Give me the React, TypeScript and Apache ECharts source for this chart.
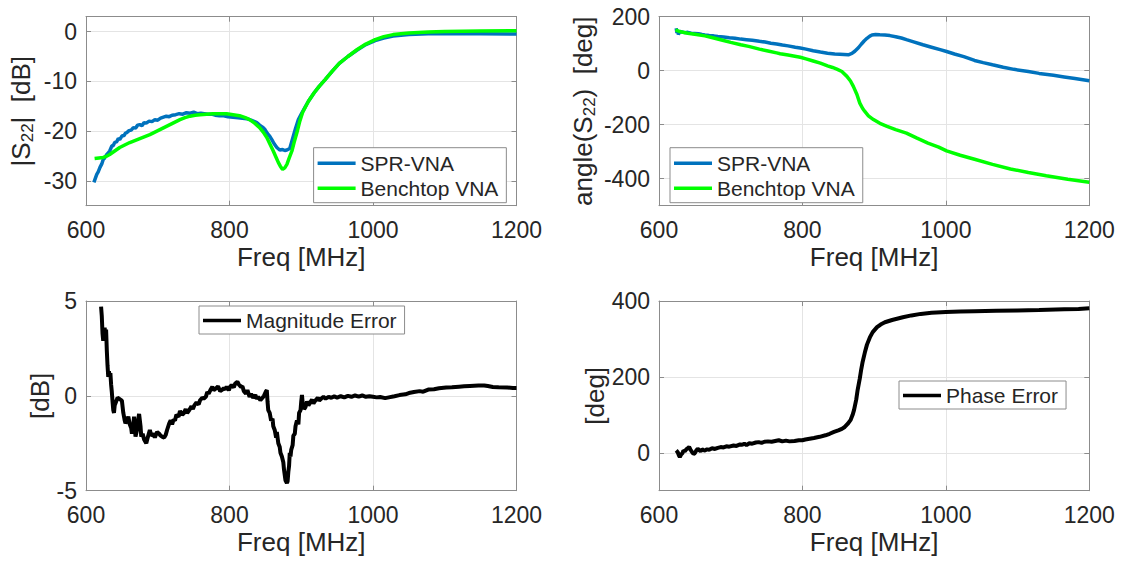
import React, { useEffect, useRef } from "react";
import * as echarts from "echarts";

// ---------- data ----------
const freqTicks = [600, 800, 1000, 1200];
const magTicks = [-30, -20, -10, 0];
const phaseTicks = [-400, -200, 0, 200];
const magErrTicks = [-5, 0, 5];
const phaseErrTicks = [0, 200, 400];

const s22MagSpr: [number, number][] = [
  [611,-30.3],[613,-29.5],[615,-28.7],[617,-28.2],[619.5,-27.3],[622,-26.6],[624,-25.7],[626,-25.4],[629,-24.7],[631,-24.4],[633,-24.0],[636,-23.0],[638,-22.9],[640,-22.3],[643,-22.1],[645,-21.5],[647,-21.7],[650,-21.0],[653,-20.9],[655,-20.4],[657,-20.3],[660,-19.9],[663,-19.8],[666,-19.3],[669,-19.4],[672,-18.8],[675,-18.7],[678,-18.9],[681,-18.3],[684,-18.4],[688,-18.0],[692,-18.1],[696,-17.7],[700,-17.8],[704,-17.4],[708,-17.2],[712,-17.0],[716,-17.1],[720,-16.8],[725,-16.7],[730,-16.5],[735,-16.6],[740,-16.3],[745,-16.4],[750,-16.2],[755,-16.5],[760,-16.4],[765,-16.5],[770,-16.6],[775,-16.6],[780,-16.8],[786,-16.9],[792,-16.9],[798,-17.1],[805,-17.2],[812,-17.3],[818,-17.4],[824,-17.5],[830,-17.8],[835,-18.1],[838,-18.3],[842,-18.8],[846,-19.2],[849.5,-19.7],[853,-20.5],[856,-21.0],[859,-21.7],[862,-22.5],[866,-23.3],[870,-23.8],[874,-23.7],[877,-23.9],[880,-23.8],[884,-23.5],[887,-22.0],[889,-21.0],[892,-19.5],[896,-17.7],[900,-16.6],[905,-15.3],[910,-14.0],[918,-12.3],[925,-11.0],[933,-9.7],[943,-8.0],[953,-6.4],[965,-5.0],[978,-3.7],[990,-2.6],[1003,-1.8],[1015,-1.3],[1028,-0.9],[1050,-0.6],[1077,-0.45],[1100,-0.4],[1150,-0.45],[1200,-0.5]
];

const s22MagBench: [number, number][] = [
  [612,-25.5],[618,-25.4],[624,-25.3],[628,-25.1],[633,-24.7],[640,-24.0],[647,-23.3],[654,-22.8],[661,-22.3],[668,-21.9],[675,-21.5],[682,-21.1],[689,-20.7],[696,-20.2],[703,-19.7],[710,-19.2],[717,-18.7],[724,-18.2],[731,-17.7],[738,-17.3],[745,-17.0],[752,-16.8],[759,-16.7],[768,-16.6],[777,-16.5],[786,-16.5],[796,-16.5],[805,-16.7],[814,-16.9],[822,-17.3],[828,-17.7],[835,-18.4],[842,-19.3],[847,-20.2],[852,-21.3],[856,-22.5],[861,-24.0],[865,-25.3],[868,-26.3],[871,-27.1],[874,-27.7],[877,-27.4],[880,-26.7],[883,-25.5],[887,-24.0],[890,-22.3],[894,-20.3],[898,-18.0],[902,-16.2],[906,-15.1],[910,-14.0],[918,-12.3],[925,-11.0],[933,-9.7],[943,-8.0],[953,-6.4],[965,-5.0],[978,-3.6],[990,-2.5],[1003,-1.6],[1015,-1.0],[1028,-0.6],[1050,-0.3],[1077,-0.1],[1100,0.0],[1150,0.1],[1200,0.2]
];

const s22PhaseSpr: [number, number][] = [
  [624,157],[625,140],[626,150],[627,134],[629,146],[632,143],[636,141],[640,142],[645,139],[650,138],[655,137],[660,134],[664,132],[670,130],[676,129],[682,127],[690,125],[698,122],[706,120],[714,117],[722,115],[730,113],[740,109],[748,106],[756,102],[764,99],[772,95],[780,92],[790,87],[797,84],[805,80],[815,74],[825,69],[835,65],[845,62],[852,61],[858,60],[864,59],[869,64],[873,72],[878,85],[882,98],[886,110],[890,120],[894,128],[897,132],[902,134],[908,133],[915,132],[922,130],[930,126],[938,121],[945,115],[955,107],[968,96],[980,87],[992,78],[1001,71],[1012,62],[1025,52],[1040,38],[1052,30],[1065,22],[1080,13],[1095,5],[1115,-3],[1130,-10],[1150,-17],[1165,-23],[1180,-29],[1200,-37]
];

const s22PhaseBench: [number, number][] = [
  [623,151],[630,144],[640,139],[650,135],[664,129],[675,122],[690,112],[700,105],[714,96],[725,90],[740,80],[752,73],[764,66],[769,63],[780,58],[797,50],[805,44],[815,36],[825,28],[835,18],[842,12],[848,6],[855,-3],[862,-21],[867,-38],[871,-58],[876,-88],[880,-120],[884,-140],[887,-151],[892,-167],[899,-181],[908,-195],[918,-206],[930,-218],[945,-231],[959,-249],[975,-268],[990,-283],[1001,-297],[1020,-313],[1040,-328],[1065,-347],[1090,-364],[1115,-377],[1140,-389],[1170,-402],[1200,-413]
];

const magError: [number, number][] = [
  [621,4.7],[622,4.2],[623,3.3],[624,2.9],[625,3.4],[626,3.6],[627,3.1],[628,3.5],[629,2.4],[630,1.6],[631,1.0],[632,1.3],[633,1.0],[634,1.2],[635,0.6],[636,0.2],[637,-0.3],[638,-0.75],[639,-0.9],[640,-0.5],[642,-0.3],[644,-0.1],[646,-0.15],[648,-0.2],[650,-0.25],[652,-0.9],[654,-1.3],[655,-1.45],[657,-1.3],[659,-1.1],[661,-1.5],[663,-1.7],[664,-2.0],[666,-1.5],[667,-1.1],[668,-1.6],[669,-2.15],[671,-1.8],[673,-1.2],[674,-0.95],[676,-1.6],[677,-2.15],[679,-2.0],[681,-2.3],[684,-2.5],[686,-2.2],[689,-1.8],[691,-2.1],[694,-2.0],[696,-2.2],[699,-1.9],[702,-2.0],[704,-2.1],[706,-2.15],[709,-2.2],[711,-2.07],[713,-1.8],[716,-1.45],[718,-1.3],[720,-1.5],[722,-1.25],[724,-1.3],[726,-1.0],[729,-1.1],[731,-0.8],[734,-1.0],[736,-0.93],[739,-0.7],[741,-0.9],[744,-0.75],[747,-0.55],[749,-0.7],[751,-0.5],[754,-0.35],[757,-0.45],[759,-0.23],[762,-0.1],[764,-0.15],[767,-0.05],[769,0.2],[771,0.12],[774,0.35],[776,0.47],[778,0.3],[781,0.39],[784,0.5],[787,0.25],[789,0.3],[792,0.4],[794,0.35],[796,0.47],[799,0.3],[801,0.48],[803,0.56],[806,0.45],[808,0.65],[811,0.74],[813,0.6],[816,0.47],[818,0.5],[820,0.25],[823,0.12],[825,0.3],[828,-0.05],[830,0.1],[833,-0.1],[836,0.04],[838,-0.15],[840,-0.05],[843,-0.23],[846,-0.1],[848,0.0],[851,0.25],[852,0.3],[853,-0.3],[854,-0.75],[856,-0.9],[858,-1.3],[860,-1.2],[861,-1.6],[863,-1.8],[865,-2.2],[866,-1.9],[868,-2.5],[870,-2.7],[871,-3.0],[873,-3.2],[875,-3.5],[876,-3.9],[878,-4.45],[880,-4.6],[881,-4.5],[882,-4.0],[883,-3.7],[884,-3.0],[885,-3.2],[886,-2.85],[888,-2.6],[889,-2.1],[891,-2.0],[892,-1.6],[894,-1.3],[896,-1.5],[897,-0.9],[899,-0.75],[900,-0.3],[901,0.05],[902,-0.4],[904,-0.7],[906,-0.58],[908,-0.3],[910,-0.5],[913,-0.32],[915,-0.2],[917,-0.4],[920,-0.23],[923,-0.1],[925,-0.25],[928,-0.14],[931,-0.05],[934,-0.15],[938,-0.05],[942,-0.1],[946,-0.03],[950,-0.09],[955,-0.02],[960,-0.08],[965,0.0],[970,-0.05],[975,0.02],[980,-0.04],[985,0.02],[990,-0.05],[995,-0.02],[1000,-0.05],[1005,-0.08],[1010,-0.06],[1017,-0.12],[1022,-0.08],[1030,-0.02],[1037,0.04],[1045,0.08],[1050,0.15],[1057,0.2],[1065,0.25],[1070,0.22],[1077,0.33],[1085,0.35],[1092,0.4],[1102,0.44],[1110,0.45],[1120,0.48],[1127,0.5],[1135,0.52],[1147,0.54],[1155,0.55],[1160,0.52],[1167,0.47],[1175,0.45],[1187,0.44],[1195,0.42],[1200,0.42]
];

const phaseError: [number, number][] = [
  [624,6],[626,2],[628,-8],[629,-11],[631,-4],[633,0],[634,6],[636,4],[638,9],[640,12],[642,15],[644,8],[646,2],[648,-3],[650,-1],[652,6],[654,10.7],[656,7],[658,4],[660,9],[662,7],[664,6],[667,9],[670,8],[674,12],[678,10],[682,13],[686,15],[690,14],[694,17],[698,16],[704,19],[708,18],[713,22],[716,21],[719,24],[722,20],[726,25],[730,24],[735,27],[739,28],[743,26],[747,29],[752,30],[757,29],[762,31],[767,33],[772,30],[777,32],[782,30],[789,31],[795,33],[800,33],[804,35],[810,37],[816,39],[824,42],[832,46],[838,50],[844,55],[850,59],[855,63],[859,68],[863,76],[867,86],[870,100],[872,113],[875,140],[877,166],[880,196],[882,220],[884,240],[887,264],[890,285],[894,304],[898,318],[904,331],[909,338],[915,344],[925,350],[940,357],[952,362],[965,366],[980,369],[1000,371],[1020,372],[1040,373],[1070,374],[1100,375],[1130,376],[1165,378],[1185,379],[1200,381]
];

// ---------- styling ----------
const FONT = '"Liberation Sans", Arial, Helvetica, sans-serif';
const TXT = "#262626";
const AXC = "#8c8c8c";
const GRIDC = "#e4e4e4";
const BLUE = "#0072BD";
const GREEN = "#00FF00";

const grids = [
  { left: 86, top: 16.7, width: 430.5, height: 189 },
  { left: 659, top: 16.7, width: 430.3, height: 189 },
  { left: 86, top: 301, width: 430.5, height: 189.7 },
  { left: 659, top: 301, width: 430.3, height: 189.7 },
];

type YSpec = { min: number; max: number; ticks: number[]; splitNumber?: number; interval?: number; name: string; nameGap: number };

const ySpecs: YSpec[] = [
  { min: -35, max: 3, ticks: magTicks, splitNumber: 5, name: "{a||S}{s|22}{a||  [dB]}", nameGap: 50 },
  { min: -500, max: 200, ticks: phaseTicks, splitNumber: 3, name: "{a|angle(S}{s|22}{a|)  [deg]}", nameGap: 61 },
  { min: -5, max: 5, ticks: magErrTicks, interval: 5, name: "{a|[dB]}", nameGap: 31 },
  { min: -100, max: 400, ticks: phaseErrTicks, splitNumber: 3, name: "{a|[deg]}", nameGap: 49 },
];

const richName = {
  a: { fontSize: 26, color: TXT, fontFamily: FONT, lineHeight: 30 },
  s: { fontSize: 17, color: TXT, fontFamily: FONT, lineHeight: 17, verticalAlign: "bottom" },
};

function buildOption() {
  const xAxis: any[] = [];
  const yAxis: any[] = [];
  grids.forEach((_, i) => {
    xAxis.push({
      type: "value", gridIndex: i, position: "bottom", min: 600, max: 1200, interval: 200,
      name: "Freq [MHz]", nameLocation: "middle", nameGap: 38,
      nameTextStyle: { fontSize: 26, color: TXT, fontFamily: FONT },
      axisLine: { show: true, onZero: false, lineStyle: { color: AXC, width: 1 } },
      axisTick: { show: true, inside: true, length: 5, lineStyle: { color: AXC } },
      axisLabel: {
        fontSize: 23, color: TXT, fontFamily: FONT, margin: 13, customValues: freqTicks,
        formatter: (v: number) => String(v),
      },
      splitLine: { show: true, lineStyle: { color: GRIDC, width: 1 } },
    });
  });
  grids.forEach((_, i) => {
    xAxis.push({
      type: "value", gridIndex: i, position: "top", min: 600, max: 1200, interval: 200,
      axisLine: { show: true, onZero: false, lineStyle: { color: AXC, width: 1 } },
      axisTick: { show: true, inside: true, length: 5, lineStyle: { color: AXC } },
      axisLabel: { show: false },
      splitLine: { show: false },
    });
  });
  ySpecs.forEach((s, i) => {
    const base: any = { type: "value", gridIndex: i, min: s.min, max: s.max };
    if (s.interval) base.interval = s.interval; else base.splitNumber = s.splitNumber;
    yAxis.push({
      ...base, position: "left",
      name: s.name, nameLocation: "middle", nameGap: s.nameGap,
      nameTextStyle: { rich: richName },
      axisLine: { show: true, onZero: false, lineStyle: { color: AXC, width: 1 } },
      axisTick: { show: true, inside: true, length: 5, lineStyle: { color: AXC }, customValues: s.ticks },
      axisLabel: {
        fontSize: 23, color: TXT, fontFamily: FONT, margin: 9, customValues: s.ticks,
        formatter: (v: number) => (s.ticks.indexOf(v) >= 0 ? String(v) : ""),
      },
      splitLine: { show: true, lineStyle: { color: GRIDC, width: 1 } },
    });
  });
  ySpecs.forEach((s, i) => {
    const base: any = { type: "value", gridIndex: i, min: s.min, max: s.max };
    if (s.interval) base.interval = s.interval; else base.splitNumber = s.splitNumber;
    yAxis.push({
      ...base, position: "right",
      axisLine: { show: true, onZero: false, lineStyle: { color: AXC, width: 1 } },
      axisTick: { show: true, inside: true, length: 5, lineStyle: { color: AXC }, customValues: s.ticks },
      axisLabel: { show: false },
      splitLine: { show: false },
    });
  });

  const line = (name: string, data: [number, number][], gi: number, color: string, width: number) => ({
    type: "line", name, data, xAxisIndex: gi, yAxisIndex: gi, symbol: "none", showSymbol: false,
    color, lineStyle: { color, width }, clip: true, z: 3,
  });

  const legendBase = {
    orient: "vertical", icon: "rect", itemWidth: 38, itemHeight: 3.5, itemGap: 2,
    textStyle: { fontSize: 21, color: TXT, fontFamily: FONT, lineHeight: 23 },
    backgroundColor: "#ffffff", borderColor: AXC, borderWidth: 1, borderRadius: 0,
    selectedMode: false, z: 10,
  };

  return {
    animation: false,
    backgroundColor: "#ffffff",
    grid: grids,
    xAxis, yAxis,
    legend: [
      { ...legendBase, data: ["SPR-VNA", "Benchtop VNA"], left: 313.6, top: 147.7, padding: [4, 8, 3, 4] },
      { ...legendBase, data: ["SPR-VNA", "Benchtop VNA"], left: 670, top: 147.7, padding: [4, 8, 3, 4] },
      { ...legendBase, data: ["Magnitude Error"], left: 199, top: 306, padding: [3, 8, 2, 4] },
      { ...legendBase, data: ["Phase Error"], left: 899, top: 381, padding: [3, 8, 2, 4] },
    ],
    series: [
      line("SPR-VNA", s22MagSpr, 0, BLUE, 3.5),
      line("Benchtop VNA", s22MagBench, 0, GREEN, 3.5),
      line("SPR-VNA", s22PhaseSpr, 1, BLUE, 3.5),
      line("Benchtop VNA", s22PhaseBench, 1, GREEN, 3.5),
      line("Magnitude Error", magError, 2, "#000000", 4),
      line("Phase Error", phaseError, 3, "#000000", 4),
    ],
  };
}

export default function App() {
  const ref = useRef<HTMLDivElement>(null);
  useEffect(() => {
    if (!ref.current) return;
    const chart = echarts.init(ref.current, undefined, { renderer: "svg" });
    chart.setOption(buildOption() as any);
    return () => chart.dispose();
  }, []);
  return (
    <div
      ref={ref}
      style={{ position: "fixed", left: 0, top: 0, width: 1124, height: 566, background: "#fff" }}
    />
  );
}
